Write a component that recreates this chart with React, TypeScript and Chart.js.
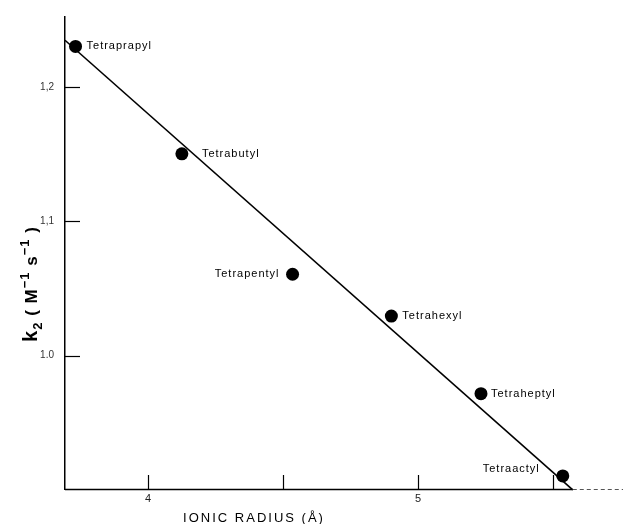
import { useEffect, useRef } from "react";
import { Chart, registerables } from "chart.js";

Chart.register(...registerables);

// Rate constant vs. ionic radius of the tetraalkylammonium salts
const salts = ["Tetraprapyl", "Tetrabutyl", "Tetrapentyl", "Tetrahexyl", "Tetraheptyl", "Tetraactyl"];
const ionicRadius = [3.731, 4.125, 4.535, 4.901, 5.233, 5.536];
const rateConstant = [1.23, 1.1501, 1.0605, 1.0294, 0.9716, 0.9104];

// Least-squares line drawn through the points
const fitRadius = [3.692, 5.573];
const fitRate = [1.2346, 0.9];

const xTicks = [4, 4.5, 5, 5.5];
const xTickLabels = ["4", "", "5", ""];
const yTicks = [1.0, 1.1, 1.2];
const yTickLabels = ["1.0", "1,1", "1,2"];

// label placement next to each marker: [dx, dy, align]
const labelPlacement: [number, number, CanvasTextAlign][] = [
  [11, 0, "left"],
  [20, 0, "left"],
  [-13, 0, "right"],
  [11, 0, "left"],
  [10, 0, "left"],
  [-23, -7, "right"],
];

const ink = "#000";

const annotate = {
  id: "annotate",
  afterDatasetsDraw(chart: any) {
    const ctx: CanvasRenderingContext2D = chart.ctx;
    const xs = chart.scales.x;
    const ys = chart.scales.y;
    const area = chart.chartArea;
    ctx.save();
    ctx.strokeStyle = ink;

    // x axis: solid up to where the fit line meets it, faint dashes beyond
    const axisY = Math.round(area.bottom) + 0.5;
    const xBreak = xs.getPixelForValue(fitRadius[1]);
    ctx.lineWidth = 1.6;
    ctx.beginPath();
    ctx.moveTo(area.left, axisY);
    ctx.lineTo(xBreak, axisY);
    ctx.stroke();
    ctx.lineWidth = 1;
    ctx.strokeStyle = "#555";
    ctx.setLineDash([4, 3]);
    ctx.beginPath();
    ctx.moveTo(xBreak, axisY);
    ctx.lineTo(chart.width, axisY);
    ctx.stroke();
    ctx.setLineDash([]);
    ctx.strokeStyle = ink;
    ctx.lineWidth = 1.2;

    // inward tick marks
    xTicks.forEach((v) => {
      const px = Math.round(xs.getPixelForValue(v)) + 0.5;
      ctx.beginPath();
      ctx.moveTo(px, area.bottom);
      ctx.lineTo(px, area.bottom - 14);
      ctx.stroke();
    });
    yTicks.forEach((v) => {
      const py = Math.round(ys.getPixelForValue(v)) + 0.5;
      ctx.beginPath();
      ctx.moveTo(area.left, py);
      ctx.lineTo(area.left + 15, py);
      ctx.stroke();
    });

    // point labels
    ctx.fillStyle = ink;
    ctx.font = "11px 'Liberation Sans', Arial, sans-serif";
    (ctx as any).letterSpacing = "1px";
    ctx.textBaseline = "middle";
    salts.forEach((name, i) => {
      const [dx, dy, align] = labelPlacement[i];
      ctx.textAlign = align;
      ctx.fillText(name, xs.getPixelForValue(ionicRadius[i]) + dx, ys.getPixelForValue(rateConstant[i]) + dy);
    });

    // x axis title
    ctx.font = "13px 'Liberation Sans', Arial, sans-serif";
    (ctx as any).letterSpacing = "2px";
    ctx.textAlign = "center";
    ctx.textBaseline = "alphabetic";
    ctx.fillText("IONIC RADIUS (Å)", area.left + 189, 522);

    // y axis title, rotated, with sub/superscripts
    (ctx as any).letterSpacing = "1px";
    const parts: [string, number, number][] = [
      ["k", 20, 0],
      ["2", 13, 5],
      [" ( M", 17, 0],
      ["−1", 13, -8],
      [" s", 17, 0],
      ["−1", 13, -8],
      [" )", 17, 0],
    ];
    const font = (s: number) => `bold ${s}px 'Liberation Sans', Arial, sans-serif`;
    let total = 0;
    parts.forEach(([t, s]) => {
      ctx.font = font(s);
      total += ctx.measureText(t).width;
    });
    ctx.translate(area.left - 34, 284);
    ctx.rotate(-Math.PI / 2);
    ctx.textAlign = "left";
    let cx = -total / 2;
    parts.forEach(([t, s, dy]) => {
      ctx.font = font(s);
      ctx.fillText(t, cx, 6 + dy);
      cx += ctx.measureText(t).width;
    });
    ctx.restore();
  },
};

export default function App() {
  const ref = useRef<HTMLCanvasElement | null>(null);

  useEffect(() => {
    if (!ref.current) return;
    const chart = new Chart(ref.current, {
      type: "scatter",
      data: {
        datasets: [
          {
            label: "fit",
            data: fitRadius.map((x, i) => ({ x, y: fitRate[i] })),
            showLine: true,
            borderColor: ink,
            borderWidth: 1.6,
            pointRadius: 0,
            clip: false as any,
          },
          {
            label: "k2",
            data: ionicRadius.map((x, i) => ({ x, y: rateConstant[i] })),
            backgroundColor: ink,
            borderColor: ink,
            pointRadius: 6.5,
            borderWidth: 0,
          },
        ],
      },
      options: {
        animation: false,
        responsive: true,
        maintainAspectRatio: false,
        layout: { padding: { top: 15, right: 0, left: 0, bottom: 0 } },
        plugins: { legend: { display: false }, tooltip: { enabled: false } },
        scales: {
          x: {
            type: "linear",
            min: 3.692,
            max: 5.735,
            afterBuildTicks: (s: any) => {
              s.ticks = xTicks.map((value) => ({ value }));
            },
            afterFit: (s: any) => {
              s.height = 35;
            },
            grid: { display: false, drawTicks: false },
            border: { display: false },
            ticks: {
              padding: 3,
              color: "#222",
              font: { family: "'Liberation Sans', Arial, sans-serif", size: 11 },
              callback: (_v: any, i: number) => xTickLabels[i],
            },
          },
          y: {
            type: "linear",
            min: 0.9007,
            max: 1.2519,
            afterBuildTicks: (s: any) => {
              s.ticks = yTicks.map((value) => ({ value }));
            },
            afterFit: (s: any) => {
              s.width = 65;
            },
            grid: { display: false, drawTicks: false },
            border: { display: true, color: ink, width: 1.5 },
            ticks: {
              padding: 11,
              color: "#333",
              font: { family: "'Liberation Sans', Arial, sans-serif", size: 10 },
              callback: (_v: any, i: number) => yTickLabels[i],
            },
          },
        },
      },
      plugins: [annotate],
    });
    return () => chart.destroy();
  }, []);

  return (
    <div style={{ position: "fixed", left: 0, top: 0, width: 623, height: 524, background: "#fff" }}>
      <canvas ref={ref} />
    </div>
  );
}
